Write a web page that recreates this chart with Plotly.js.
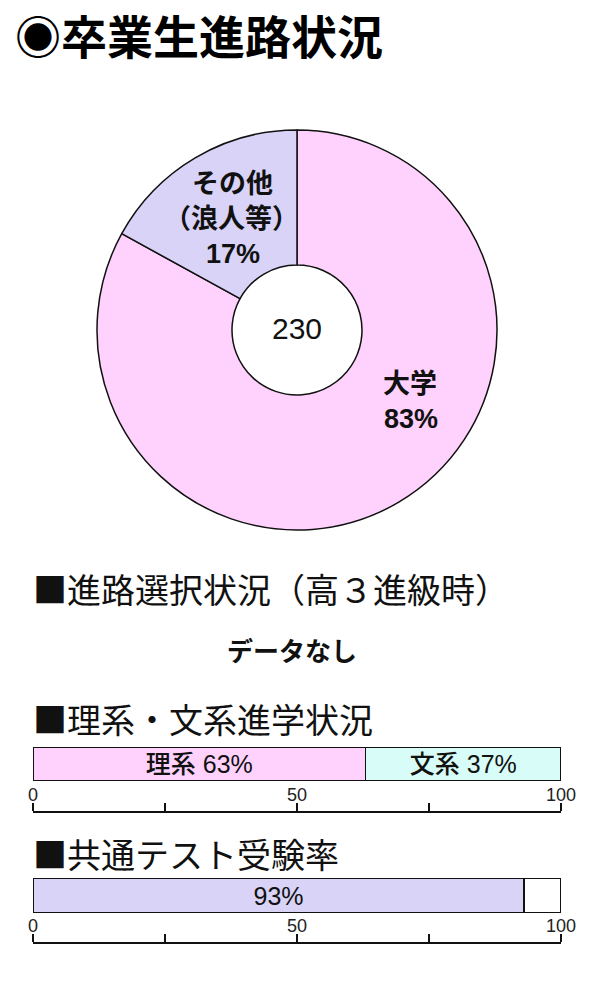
<!DOCTYPE html>
<html>
<head>
<meta charset="utf-8">
<script src="https://cdn.plot.ly/plotly-3.0.1.min.js"></script>
<style>html,body{margin:0;padding:0;background:#fff;}#chart{width:600px;height:1000px;}</style>
</head>
<body>
<div id="chart"></div>
<script>
// ---- data ----
const chartTitle = '◉卒業生進路状況';
const pieLabels = ['大学', 'その他（浪人等）'];
const pieValues = [83, 17];
const pieTextLines = [['大学', '83%'], ['その他', '（浪人等）', '17%']];
const pieTotal = '230';
const pieColors = ['#FFD2FD', '#D8D3F7'];

const section1Title = '■進路選択状況（高３進級時）';
const section1Note = 'データなし';

const section2Title = '■理系・文系進学状況';
const bar1Categories = ['理系', '文系'];
const bar1Values = [63, 37];
const bar1Colors = ['#FFD2FD', '#D8FCF7'];

const section3Title = '■共通テスト受験率';
const bar2Values = [93, 7];
const bar2Labels = ['93%', ''];
const bar2Colors = ['#D8D3F7', '#FFFFFF'];

const tickVals = [0, 25, 50, 75, 100];
const tickText = ['0', '', '50', '', '100'];

// ---- figure ----
const JP = '"Noto Sans CJK JP", "Noto Sans", sans-serif';
const MIX = '"Liberation Sans", "Noto Sans CJK JP", sans-serif';
const LAT = '"Liberation Sans", Arial, sans-serif';
const W = 600, H = 1000;
const px = x => x / W;
const py = y => 1 - y / H;

const traces = [];
traces.push({
  type: 'pie',
  labels: pieLabels,
  values: pieValues,
  sort: false,
  direction: 'clockwise',
  rotation: 0,
  hole: 0.325,
  textinfo: 'none',
  hoverinfo: 'none',
  showlegend: false,
  marker: {colors: pieColors, line: {color: '#111', width: 1.5}},
  domain: {x: [px(97), px(497)], y: [py(530), py(130)]}
});

const barFont = {family: MIX, size: 25, color: '#111', weight: 500};
bar1Categories.forEach((c, i) => {
  traces.push({
    type: 'bar', orientation: 'h',
    x: [bar1Values[i]], y: ['r'],
    xaxis: 'x', yaxis: 'y',
    width: 1,
    marker: {color: bar1Colors[i], line: {color: '#111', width: 1.5}},
    text: [c + ' ' + bar1Values[i] + '%'],
    textposition: 'inside', insidetextanchor: 'middle',
    constraintext: 'none', cliponaxis: false,
    textfont: barFont,
    hoverinfo: 'none', showlegend: false
  });
});
bar2Values.forEach((v, i) => {
  traces.push({
    type: 'bar', orientation: 'h',
    x: [v], y: ['r'],
    xaxis: 'x2', yaxis: 'y2',
    width: 1,
    marker: {color: bar2Colors[i], line: {color: '#111', width: 1.5}},
    text: [bar2Labels[i]],
    textposition: 'inside', insidetextanchor: 'middle',
    constraintext: 'none', cliponaxis: false,
    textfont: barFont,
    hoverinfo: 'none', showlegend: false
  });
});

function xAxis(pos) {
  return {
    domain: [px(33), px(561)],
    range: [0, 100],
    anchor: 'free', position: pos, side: 'top',
    showline: true, linecolor: '#111', linewidth: 1.5,
    ticks: 'outside', ticklen: 8, tickwidth: 1.5, tickcolor: '#111',
    tickvals: tickVals, ticktext: tickText,
    ticklabelstandoff: -5,
    tickfont: {family: LAT, size: 18, color: '#222'},
    showgrid: false, zeroline: false, fixedrange: true
  };
}
function yAxis(top, bottom, anchor) {
  return {
    domain: [py(bottom), py(top)],
    range: [-0.5, 0.5], anchor: anchor,
    visible: false, fixedrange: true
  };
}

const annotations = [];
function addText(text, x, y, size, opts) {
  annotations.push(Object.assign({
    xref: 'paper', yref: 'paper', x: px(x), y: py(y),
    xanchor: 'center', yanchor: 'middle', text: text, showarrow: false,
    font: {family: JP, size: size, color: '#111'}
  }, opts || {}));
}
// pie labels (one annotation per line)
const pieLabelPos = [[[410, 384], [411, 419]], [[233, 184], [231, 219], [233, 254]]];
pieTextLines.forEach((lines, i) => {
  lines.forEach((s, j) => {
    addText('<b>' + s + '</b>', pieLabelPos[i][j][0], pieLabelPos[i][j][1], 27,
      {font: {family: MIX, size: 27, color: '#111'}});
  });
});
addText(pieTotal, 297, 329, 30, {font: {family: LAT, size: 30, color: '#111'}});
[[section1Title, 588], [section2Title, 718], [section3Title, 853]].forEach(([t, y]) => {
  addText(t, 31, y, 34, {xanchor: 'left'});
});
addText('<b>' + section1Note + '</b>', 292, 649, 26);

const layout = {
  width: W, height: H,
  margin: {l: 0, r: 0, t: 0, b: 0},
  paper_bgcolor: '#fff', plot_bgcolor: 'rgba(0,0,0,0)',
  showlegend: false,
  barmode: 'stack',
  title: {
    text: '<b>' + chartTitle + '</b>',
    x: px(15), xanchor: 'left', xref: 'paper',
    y: py(38), yanchor: 'middle', yref: 'container',
    font: {family: JP, size: 46, color: '#000'}
  },
  xaxis: xAxis(py(811)),
  yaxis: yAxis(747, 781, 'x'),
  xaxis2: xAxis(py(942)),
  yaxis2: yAxis(878, 913, 'x2'),
  annotations: annotations
};

Plotly.newPlot('chart', traces, layout, {displayModeBar: false, staticPlot: true});
</script>
</body>
</html>
